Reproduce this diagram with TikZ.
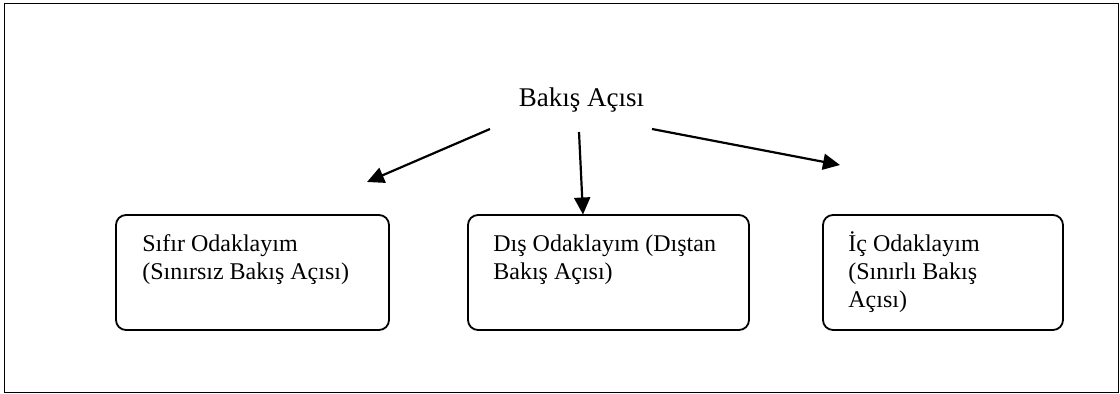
\documentclass[tikz,border=0pt]{standalone}
\usepackage{fontspec}
\setmainfont{Liberation Serif}
\usetikzlibrary{arrows.meta}
\begin{document}
\begin{tikzpicture}[x=0.5pt,y=-0.5pt,
  frame/.style={draw,line width=0.8pt},
  focusbox/.style={draw,line width=0.9pt,rounded corners=5pt,inner sep=0pt,outer sep=0pt,minimum height=57.5pt},
  boxtext/.style={inner sep=0pt,anchor=base west,font=\fontsize{12pt}{13.8pt}\selectfont},
  title/.style={inner sep=0pt,anchor=base,font=\fontsize{13.5pt}{15.5pt}\selectfont},
  pointer/.style={line width=1.1pt,-{Triangle[length=8.5pt,width=8pt]}}]
  \useasboundingbox (0,0) rectangle (1120,394);
  % outer frame
  \draw[frame] (4.5,3.5) rectangle (1118.5,392.5);

  % heading
  \node[title] (head) at (581.5,107) {Bakış Açısı};

  % the three kinds of focalisation
  \node[focusbox,minimum width=136.5pt] (b1) at (252.5,272.5) {};
  \node[focusbox,minimum width=140.5pt] (b2) at (608.5,272.5) {};
  \node[focusbox,minimum width=120pt]   (b3) at (943,272.5) {};

  \node[boxtext] (t1) at (142,252) {\begin{tabular}[t]{@{}l@{}}Sıfır Odaklayım\\(Sınırsız Bakış Açısı)\end{tabular}};
  \node[boxtext] (t2) at (493,252) {\begin{tabular}[t]{@{}l@{}}Dış Odaklayım (Dıştan\\Bakış Açısı)\end{tabular}};
  \node[boxtext] (t3) at (848,252) {\begin{tabular}[t]{@{}l@{}}İç Odaklayım\\(Sınırlı Bakış\\Açısı)\end{tabular}};

  % arrow end points
  \coordinate (s1) at (490,129);
  \coordinate (e1) at (367,182);
  \coordinate (s2) at (579,132);
  \coordinate (e2) at (583,214.5);
  \coordinate (s3) at (652,129);
  \coordinate (e3) at (840,165);

  \draw[pointer] (s1) -- (e1);
  \draw[pointer] (s2) -- (e2);
  \draw[pointer] (s3) -- (e3);
\end{tikzpicture}
\end{document}
